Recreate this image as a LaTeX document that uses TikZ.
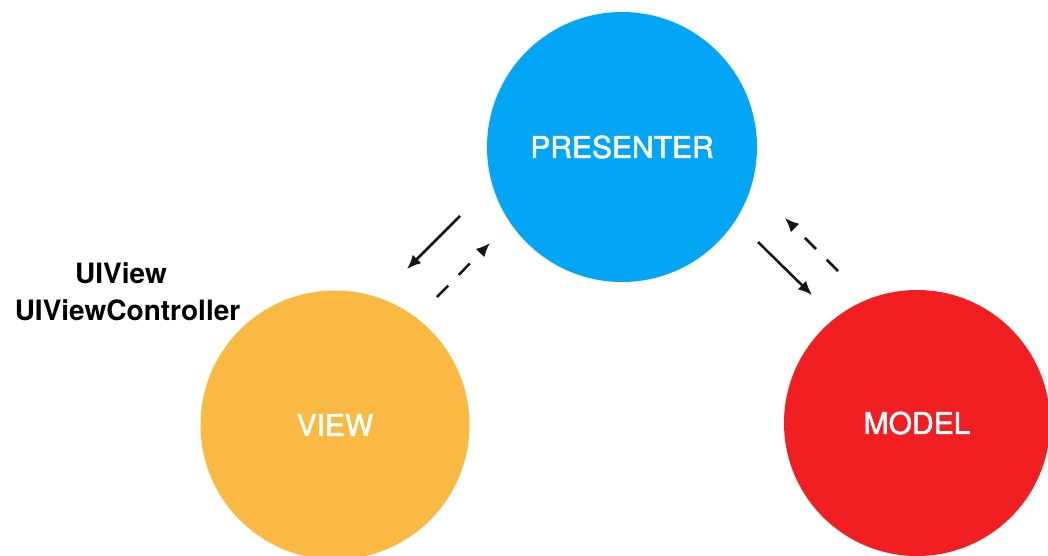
\documentclass[tikz,border=0pt]{standalone}
\usepackage{fontspec}
\setmainfont{TeX Gyre Heros}
\newfontfamily\layerfont[FakeBold=1.8]{TeX Gyre Heros}
\usetikzlibrary{arrows.meta}
\definecolor{presenterblue}{HTML}{03A5F5}
\definecolor{viewyellow}{HTML}{FAB942}
\definecolor{modelred}{HTML}{F21F22}
\definecolor{inkblack}{HTML}{151515}
\begin{document}
\begin{tikzpicture}[x=1pt,y=-1pt,
  layer/.style={circle,minimum size=#1,inner sep=0pt,text=white,font=\layerfont\fontsize{30}{30}\selectfont},
  calls/.style={draw=inkblack,line width=2.5pt,-{Latex[length=14pt,width=12pt]}},
  replies/.style={calls,dash pattern=on 16pt off 15pt},
  caption/.style={anchor=base,font=\fontsize{28}{28}\selectfont\bfseries}]
  \useasboundingbox (0,0) rectangle (1048,555);
  \clip (0,0) rectangle (1048,555);
  % the three layers
  \node[layer=270pt,fill=presenterblue] (presenter) at (622,147) {PRESENTER};
  \node[layer=269pt,fill=viewyellow] (view) at (335,425) {VIEW};
  \node[layer=266pt,fill=modelred] (model) at (917,423) {\raisebox{-2pt}{MODEL}};
  % captions of the view layer
  \node[caption] (uiview) at (121,283) {UIView};
  \node[caption] (uiviewcontroller) at (127.5,320) {UIViewController};
  % end points of the arrow pairs
  \coordinate (pv-from) at (460,216);
  \coordinate (pv-to) at (407,269);
  \coordinate (vp-from) at (437,297);
  \coordinate (vp-to) at (490,243);
  \coordinate (pm-from) at (758,242);
  \coordinate (pm-to) at (812,295);
  \coordinate (mp-from) at (838,271);
  \coordinate (mp-to) at (785,218);
  % presenter <-> view
  \draw[calls] (pv-from) -- (pv-to);
  \draw[replies] (vp-from) -- (vp-to);
  % presenter <-> model
  \draw[calls] (pm-from) -- (pm-to);
  \draw[replies] (mp-from) -- (mp-to);
\end{tikzpicture}
\end{document}
